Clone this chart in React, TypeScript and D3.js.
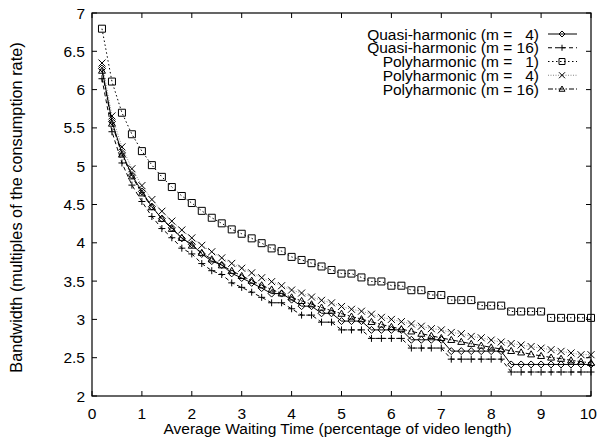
import React from "react";
import * as d3 from "d3";

const waitTimes = [0.2, 0.4, 0.6, 0.8, 1.0, 1.2, 1.4, 1.6, 1.8, 2.0, 2.2, 2.4, 2.6, 2.8, 3.0, 3.2, 3.4, 3.6, 3.8, 4.0, 4.2, 4.4, 4.6, 4.8, 5.0, 5.2, 5.4, 5.6, 5.8, 6.0, 6.2, 6.4, 6.6, 6.8, 7.0, 7.2, 7.4, 7.6, 7.8, 8.0, 8.2, 8.4, 8.6, 8.8, 9.0, 9.2, 9.4, 9.6, 9.8, 10.0];

const quasiM4 = [6.275, 5.583, 5.174, 4.884, 4.670, 4.472, 4.315, 4.195, 4.058, 3.981, 3.855, 3.761, 3.710, 3.601, 3.541, 3.477, 3.409, 3.337, 3.337, 3.258, 3.173, 3.173, 3.080, 3.080, 2.978, 2.978, 2.978, 2.863, 2.863, 2.863, 2.863, 2.734, 2.734, 2.734, 2.734, 2.586, 2.586, 2.586, 2.586, 2.586, 2.586, 2.412, 2.412, 2.412, 2.412, 2.412, 2.412, 2.412, 2.412, 2.412];

const quasiM16 = [6.142, 5.450, 5.042, 4.753, 4.539, 4.343, 4.186, 4.066, 3.930, 3.855, 3.729, 3.636, 3.586, 3.477, 3.418, 3.355, 3.288, 3.217, 3.217, 3.139, 3.056, 3.056, 2.964, 2.964, 2.863, 2.863, 2.863, 2.752, 2.752, 2.752, 2.752, 2.626, 2.626, 2.626, 2.626, 2.481, 2.481, 2.481, 2.481, 2.481, 2.481, 2.313, 2.313, 2.313, 2.313, 2.313, 2.313, 2.313, 2.313, 2.313];

const polyM1 = [6.795, 6.105, 5.698, 5.417, 5.197, 5.014, 4.861, 4.728, 4.611, 4.519, 4.417, 4.327, 4.254, 4.175, 4.118, 4.058, 3.995, 3.927, 3.891, 3.816, 3.776, 3.734, 3.691, 3.645, 3.598, 3.598, 3.548, 3.495, 3.495, 3.440, 3.440, 3.381, 3.381, 3.318, 3.318, 3.252, 3.252, 3.252, 3.180, 3.180, 3.180, 3.103, 3.103, 3.103, 3.103, 3.020, 3.020, 3.020, 3.020, 3.020];

const polyM4 = [6.347, 5.656, 5.252, 4.967, 4.747, 4.565, 4.412, 4.283, 4.167, 4.064, 3.967, 3.883, 3.803, 3.731, 3.668, 3.608, 3.544, 3.493, 3.440, 3.383, 3.344, 3.292, 3.249, 3.216, 3.169, 3.132, 3.107, 3.068, 3.027, 3.000, 2.971, 2.941, 2.911, 2.879, 2.863, 2.830, 2.813, 2.778, 2.760, 2.730, 2.705, 2.685, 2.666, 2.646, 2.625, 2.605, 2.583, 2.562, 2.539, 2.539];

const polyM16 = [6.248, 5.557, 5.153, 4.868, 4.647, 4.466, 4.314, 4.183, 4.066, 3.964, 3.870, 3.785, 3.707, 3.635, 3.568, 3.506, 3.446, 3.391, 3.340, 3.288, 3.242, 3.198, 3.155, 3.115, 3.075, 3.038, 3.004, 2.968, 2.934, 2.903, 2.874, 2.844, 2.814, 2.786, 2.758, 2.733, 2.708, 2.682, 2.659, 2.635, 2.613, 2.589, 2.570, 2.545, 2.524, 2.503, 2.487, 2.466, 2.449, 2.432];

const seriesLabels = [
  "Quasi-harmonic (m =   4)",
  "Quasi-harmonic (m = 16)",
  "Polyharmonic (m =   1)",
  "Polyharmonic (m =   4)",
  "Polyharmonic (m = 16)",
];

const xTicks = [0, 1, 2, 3, 4, 5, 6, 7, 8, 9, 10];
const yTicks = [2, 2.5, 3, 3.5, 4, 4.5, 5, 5.5, 6, 6.5, 7];

const xTitle = "Average Waiting Time (percentage of video length)";
const yTitle = "Bandwidth (multiples of the consumption rate)";

const W = 598;
const H = 440;
const L = 92, R = 591, T = 13, B = 396;
const FONT = "'Liberation Sans', Arial, Helvetica, sans-serif";
const FS = 15.5;

type Marker = "diamond" | "plus" | "square" | "cross" | "triangle";

const styles: { dash: string; marker: Marker; stroke: string; width: number }[] = [
  { dash: "", marker: "diamond", stroke: "#000", width: 1 },
  { dash: "4,3", marker: "plus", stroke: "#000", width: 1 },
  { dash: "1.5,2.5", marker: "square", stroke: "#000", width: 1 },
  { dash: "1,1.5", marker: "cross", stroke: "#666", width: 0.8 },
  { dash: "5,2,1.5,2", marker: "triangle", stroke: "#000", width: 1 },
];

function markerPath(m: Marker, r = 3.5): string {
  switch (m) {
    case "diamond":
      return `M0,${-r}L${r},0L0,${r}L${-r},0Z`;
    case "plus":
      return `M${-r},0H${r}M0,${-r}V${r}`;
    case "square":
      return `M${-r},${-r}H${r}V${r}H${-r}Z`;
    case "cross":
      return `M${-r},${-r}L${r},${r}M${-r},${r}L${r},${-r}`;
    case "triangle":
      return `M0,${-r}L${r},${r * 0.75}L${-r},${r * 0.75}Z`;
  }
}

export default function App() {
  const x = d3.scaleLinear().domain([0, 10]).range([L, R]);
  const y = d3.scaleLinear().domain([2, 7]).range([B, T]);
  const allSeries = [quasiM4, quasiM16, polyM1, polyM4, polyM16];
  const line = d3
    .line<[number, number]>()
    .x((d) => x(d[0]))
    .y((d) => y(d[1]));
  const tick = 5;
  const legendY = [34, 47.75, 61.5, 75.25, 89];

  return (
    <svg
      width={W}
      height={H}
      style={{ position: "absolute", left: 0, top: 0, background: "#fff" }}
      fontFamily={FONT}
      fontSize={FS}
    >
      <rect x={0} y={0} width={W} height={H} fill="#fff" />
      {xTicks.map((t, i) => {
        const last = i === xTicks.length - 1;
        return (
          <g key={"xt" + t}>
            <line x1={x(t)} x2={x(t)} y1={B} y2={B - tick} stroke="#000" />
            <line x1={x(t)} x2={x(t)} y1={T} y2={T + tick} stroke="#000" />
            <text
              x={last ? W - 1 : x(t)}
              y={419}
              textAnchor={last ? "end" : "middle"}
            >
              {t}
            </text>
          </g>
        );
      })}
      {yTicks.map((t) => (
        <g key={"yt" + t}>
          <line x1={L} x2={L + tick} y1={y(t)} y2={y(t)} stroke="#000" />
          <line x1={R} x2={R - tick} y1={y(t)} y2={y(t)} stroke="#000" />
          <text x={85} y={y(t)} dy="0.36em" textAnchor="end">
            {t}
          </text>
        </g>
      ))}
      <text x={(L + R) / 2 - 4} y={434} textAnchor="middle">
        {xTitle}
      </text>
      <text
        transform={`translate(22,${(T + B) / 2 + 3}) rotate(-90)`}
        textAnchor="middle"
        fontSize={16.3}
      >
        {yTitle}
      </text>

      {allSeries.map((vals, i) => {
        const st = styles[i];
        const pts: [number, number][] = waitTimes.map((w, j) => [w, vals[j]]);
        return (
          <g key={"s" + i}>
            <path
              d={line(pts) || ""}
              fill="none"
              stroke={st.stroke}
              strokeWidth={st.width}
              strokeDasharray={st.dash || undefined}
            />
            {pts.map((p, j) => (
              <path
                key={j}
                transform={`translate(${x(p[0])},${y(p[1])})`}
                d={markerPath(st.marker)}
                fill="none"
                stroke="#000"
                strokeWidth={1}
              />
            ))}
          </g>
        );
      })}

      {seriesLabels.map((lab, i) => {
        const st = styles[i];
        const ly = legendY[i];
        return (
          <g key={"lg" + i}>
            <text x={539} y={ly} dy="0.36em" textAnchor="end" style={{ whiteSpace: "pre" }}>
              {lab}
            </text>
            <line
              x1={548}
              x2={577}
              y1={ly}
              y2={ly}
              stroke={st.stroke}
              strokeWidth={st.width}
              strokeDasharray={st.dash || undefined}
            />
            <path
              transform={`translate(${562},${ly})`}
              d={markerPath(st.marker, 3)}
              fill="none"
              stroke="#000"
            />
          </g>
        );
      })}

      <rect x={L} y={T} width={R - L} height={B - T} fill="none" stroke="#000" strokeWidth={1.2} />
    </svg>
  );
}
